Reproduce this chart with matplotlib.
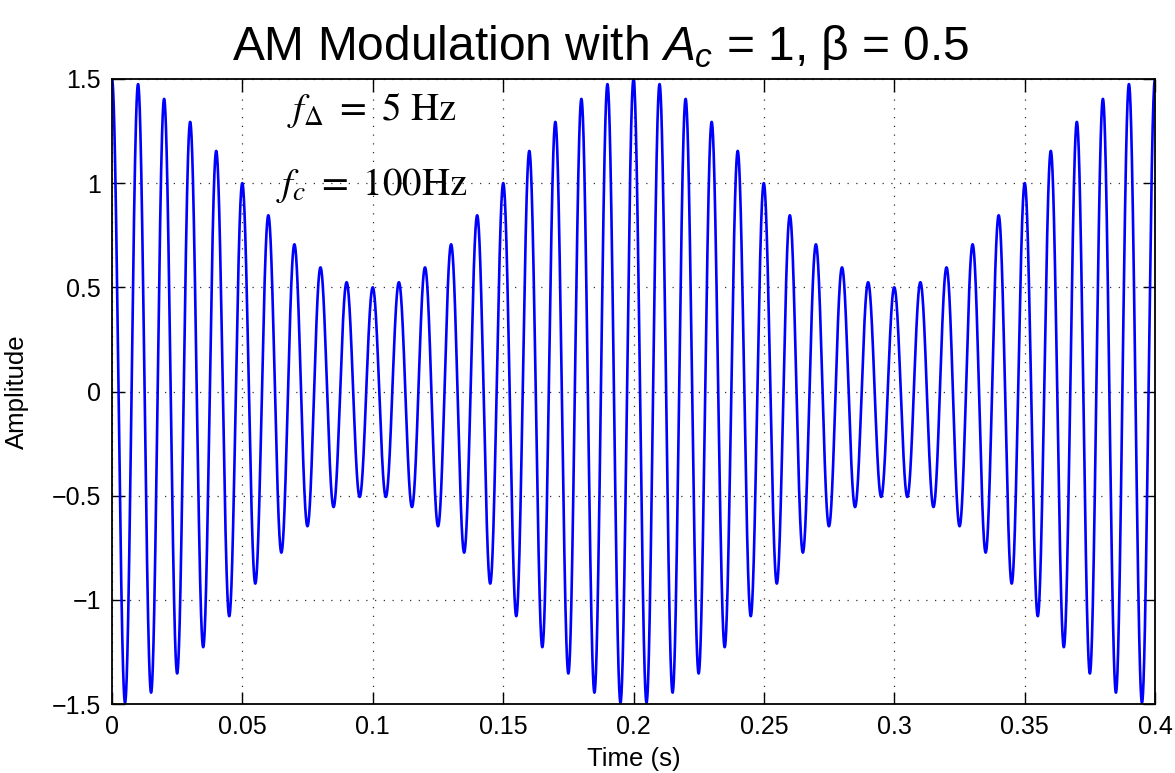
import numpy as np
import matplotlib
matplotlib.use("Agg")
import matplotlib.pyplot as plt

# Signal parameters
A_c = 1.0
beta = 0.5
f_delta = 5.0      # Hz (modulating frequency)
f_c = 100.0        # Hz (carrier frequency)
t_start, t_end = 0.0, 0.4

x_ticks = [0, 0.05, 0.1, 0.15, 0.2, 0.25, 0.3, 0.35, 0.4]
x_tick_labels = ["0", "0.05", "0.1", "0.15", "0.2", "0.25", "0.3", "0.35", "0.4"]
y_ticks = [-1.5, -1, -0.5, 0, 0.5, 1, 1.5]
y_tick_labels = ["\u22121.5", "\u22121", "\u22120.5", "0", "0.5", "1", "1.5"]

t = np.linspace(t_start, t_end, 8001)
s = A_c * (1 + beta * np.cos(2 * np.pi * f_delta * t)) * np.cos(2 * np.pi * f_c * t)

plt.rcParams['font.family'] = ['Liberation Sans', 'DejaVu Sans']
plt.rcParams['mathtext.fontset'] = 'custom'
plt.rcParams['mathtext.it'] = 'Liberation Sans:italic'
plt.rcParams['mathtext.rm'] = 'Liberation Sans'

fig = plt.figure(figsize=(11.75, 7.73), dpi=100)
ax = fig.add_axes([112/1175, 1 - 704/773, (1155-112)/1175, (704-79)/773])

ax.plot(t, s, color='#0000ff', lw=1.9)
ax.set_xlim(t_start, t_end)
ax.set_ylim(-1.5, 1.5)
ax.set_xticks(x_ticks)
ax.set_xticklabels(x_tick_labels)
ax.set_yticks(y_ticks)
ax.set_yticklabels(y_tick_labels)
ax.tick_params(direction='in', length=9, width=1, labelsize=18, top=True, right=True, pad=8)
ax.grid(True, linestyle=(0, (1, 6)), color='#333333', lw=0.9)
for sp in ax.spines.values():
    sp.set_linewidth(1.3)

ax.set_xlabel("Time (s)", fontsize=18.5, labelpad=6)
ax.set_ylabel("Amplitude", fontsize=18.5, labelpad=16)
ax.set_title(r"AM Modulation with $A_c$ = 1, $\mathregular{\beta}$ = 0.5", fontsize=34.5, pad=14,
             x=0.469)

ax.text(0.0995, 1.35, r"$f_\Delta\ =\ \mathrm{5\ Hz}$", fontsize=28, ha='center', va='center',
        math_fontfamily='stix')
ax.text(0.0995, 0.99, r"$f_c\ =\ \mathrm{100Hz}$", fontsize=28, ha='center', va='center',
        math_fontfamily='stix')

fig.savefig("out.png", dpi=100)
